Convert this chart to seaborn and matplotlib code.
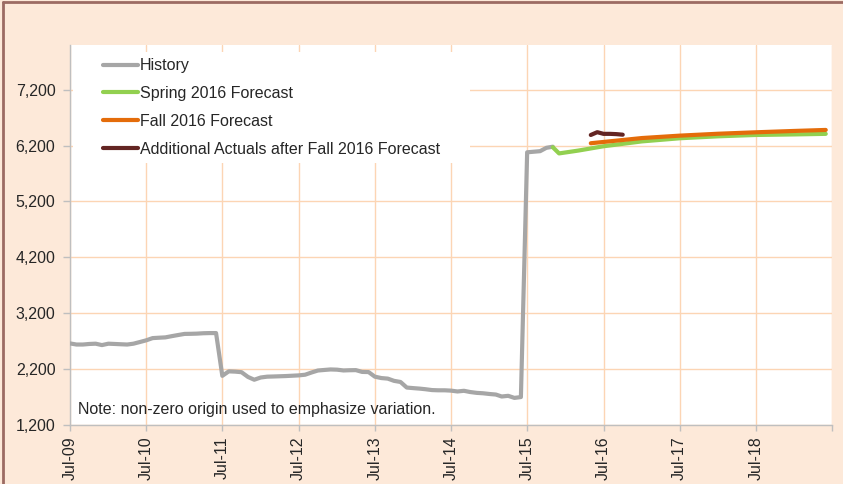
import pandas as pd
import matplotlib.pyplot as plt
from matplotlib.lines import Line2D
from matplotlib.patches import Rectangle
import seaborn as sns

# data (monthly history, Jul-09 .. Nov-15)
history_values = [2660, 2640, 2640, 2650, 2655, 2630, 2655, 2650, 2645, 2640, 2655, 2685,
                  2715, 2755, 2762, 2768, 2790, 2810, 2830, 2832, 2835, 2842, 2845, 2845,
                  2080, 2160, 2155, 2145, 2060, 2010, 2050, 2065, 2068, 2072, 2076, 2082,
                  2088, 2100, 2140, 2175, 2185, 2194, 2190, 2176, 2180, 2182, 2150, 2147,
                  2065, 2040, 2030, 1990, 1970, 1870, 1860, 1851, 1840, 1825, 1821, 1821,
                  1815, 1800, 1812, 1790, 1775, 1768, 1755, 1745, 1710, 1722, 1685, 1700,
                  6080, 6090, 6100, 6160, 6180]
history_dates = pd.date_range("2009-07-01", periods=len(history_values), freq="MS")

spring_dates = ["2015-11-01", "2015-12-01", "2016-03-01", "2016-07-01", "2017-01-01",
                "2017-07-01", "2018-01-01", "2018-07-01", "2019-01-01", "2019-06-01"]
spring_values = [6170, 6060, 6110, 6188, 6275, 6331, 6366, 6390, 6400, 6410]

fall_dates = ["2016-05-01", "2016-07-01", "2017-01-01", "2017-07-01", "2018-01-01",
              "2018-07-01", "2019-01-01", "2019-06-01"]
fall_values = [6242, 6265, 6335, 6378, 6412, 6438, 6462, 6480]

actual_dates = ["2016-05-01", "2016-06-01", "2016-07-01", "2016-08-01", "2016-09-01", "2016-10-01"]
actual_values = [6390, 6440, 6410, 6410, 6405, 6395]

tick_years = ["2009", "2010", "2011", "2012", "2013", "2014", "2015", "2016", "2017", "2018", "2019"]
tick_labels = ["Jul-09", "Jul-10", "Jul-11", "Jul-12", "Jul-13", "Jul-14", "Jul-15",
               "Jul-16", "Jul-17", "Jul-18", ""]
y_ticks = [1200, 2200, 3200, 4200, 5200, 6200, 7200]

sns.set_theme(style="white")
plt.rcParams["font.family"] = ["Liberation Sans", "DejaVu Sans"]

bg = "#FDE9D9"
grid_c = "#FCD5B4"
axis_c = "#BFBFBF"
fs = 11.5

fig = plt.figure(figsize=(8.43, 4.84), dpi=100, facecolor=bg)
ax = fig.add_axes([70 / 843, 59 / 484, 762 / 843, 380 / 484])
ax.set_facecolor("white")

series = [
    (history_dates, history_values, "History", "#A6A6A6"),
    (pd.to_datetime(spring_dates), spring_values, "Spring 2016 Forecast", "#92D050"),
    (pd.to_datetime(fall_dates), fall_values, "Fall 2016 Forecast", "#E46C0A"),
    (pd.to_datetime(actual_dates), actual_values, "Additional Actuals after Fall 2016 Forecast", "#632523"),
]
for x, y, name, col in series:
    sns.lineplot(x=x, y=y, ax=ax, color=col, lw=3, label=name, zorder=3)

ax.set_xlim(pd.Timestamp("2009-07-01"), pd.Timestamp("2019-07-01"))
ax.set_ylim(1200, 8000)
ax.set_xticks([pd.Timestamp(y + "-07-01") for y in tick_years])
ax.set_xticklabels(tick_labels, rotation=90, fontsize=fs)
ax.set_yticks(y_ticks)
ax.set_yticklabels([f"{v:,}" for v in y_ticks], fontsize=fs)
ax.set_xlabel("")
ax.set_ylabel("")

ax.grid(True, color=grid_c, lw=1, zorder=0)
ax.set_axisbelow(True)
for s in ["top", "right"]:
    ax.spines[s].set_visible(False)
for s in ["left", "bottom"]:
    ax.spines[s].set_color(axis_c)
    ax.spines[s].set_linewidth(1)
ax.tick_params(axis="y", direction="out", length=5, width=1, color=axis_c, pad=5.5, left=True)
ax.tick_params(axis="x", direction="out", length=4, width=1, color=axis_c, pad=4, bottom=True)

# white legend area hiding the gridlines
ax.add_patch(Rectangle((0.004, 0.689), 0.521, 0.293, transform=ax.transAxes,
                       facecolor="white", edgecolor="none", zorder=2))

leg = ax.legend(loc="upper left", bbox_to_anchor=(0.043, 0.965), borderaxespad=0,
                borderpad=0, fontsize=fs, frameon=False, handlelength=2.2,
                handletextpad=0.12, labelspacing=0.8)
leg.set_zorder(5)

ax.text(0.011, 0.042, "Note: non-zero origin used to emphasize variation.",
        transform=ax.transAxes, fontsize=fs, va="center", ha="left")

# outer border (top and left visible in the reference)
fig.add_artist(Line2D([0.003, 0.003], [0, 0.996], transform=fig.transFigure, color="#9C6B63", lw=2))
fig.add_artist(Line2D([0.003, 1], [0.996, 0.996], transform=fig.transFigure, color="#9C6B63", lw=2))

plt.savefig("out.png", dpi=100, facecolor=bg)
